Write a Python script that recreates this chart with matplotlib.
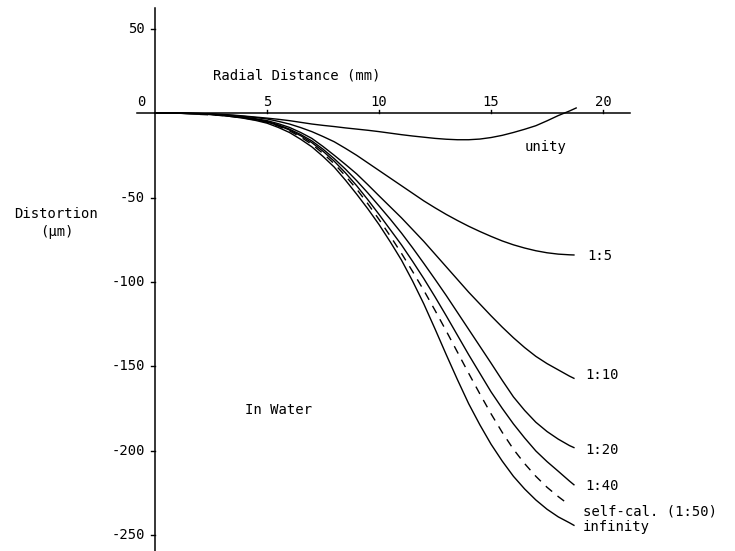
import matplotlib
matplotlib.use("Agg")
import matplotlib.pyplot as plt

# radial distance (mm)
r = [0, 1, 2, 2.5, 3, 3.5, 4, 4.5, 5, 5.5, 6, 6.5, 7, 7.5, 8, 8.5, 9, 9.5, 10,
     10.5, 11, 11.5, 12, 12.5, 13, 13.5, 14, 14.5, 15, 15.5, 16, 16.5, 17, 17.5,
     18, 18.5, 18.7]
r_unity = [0, 1, 2, 2.5, 3, 3.5, 4, 4.5, 5, 5.5, 6, 6.5, 7, 7.5, 8, 8.5, 9, 9.5, 10,
           10.5, 11, 11.5, 12, 12.5, 13, 13.5, 14, 14.5, 15, 15.5, 16, 16.5, 17, 17.5,
           18, 18.5, 18.8]
r_selfcal = [2, 2.5, 3, 3.5, 4, 4.5, 5, 5.5, 6, 6.5, 7, 7.5, 8, 8.5, 9, 9.5, 10,
             10.5, 11, 11.5, 12, 12.5, 13, 13.5, 14, 14.5, 15, 15.5, 16, 16.5, 17,
             17.5, 18, 18.4]

# distortion (um)
unity = [0, -0.1, -0.3, -0.5, -0.8, -1.2, -1.8, -2.4, -3, -3.7, -4.5, -5.5, -6.5, -7.3,
         -8, -8.8, -9.5, -10.2, -11, -11.9, -12.8, -13.6, -14.3, -15, -15.5, -15.8,
         -15.8, -15.4, -14.5, -13.2, -11.5, -9.6, -7.5, -4.6, -1.5, 1.2, 3]
d_1_5 = [0, -0.1, -0.3, -0.6, -1, -1.5, -2, -2.7, -3.5, -4.9, -6.5, -8.6, -11, -13.9,
         -17, -20.9, -25, -29.5, -34, -38.5, -43, -47.5, -52, -56.1, -60, -63.6, -67,
         -70.1, -73, -75.7, -78, -79.9, -81.5, -82.7, -83.5, -83.9, -84]
d_1_10 = [0, -0.1, -0.4, -0.75, -1.2, -1.8, -2.5, -3.4, -4.5, -6.3, -8.5, -11.5, -15,
          -19.8, -25, -30.4, -36, -42.4, -49, -55.5, -62, -69, -76, -83.5, -91, -98.5,
          -106, -113, -120, -126.7, -133, -138.8, -144, -148.3, -152, -155.7, -157]
d_1_20 = [0, -0.1, -0.4, -0.75, -1.2, -1.9, -2.7, -3.7, -5, -7, -9.5, -12.7, -16.5,
          -21.4, -27, -33.2, -40, -47.3, -55, -62.8, -71, -79.8, -89, -98.4, -108, -118,
          -128, -138, -148, -158.2, -168, -176, -183, -188.5, -193, -196.8, -198]
d_1_40 = [0, -0.1, -0.5, -0.85, -1.3, -2, -2.8, -3.9, -5.3, -7.4, -10, -13.4, -17.5,
          -22.6, -28.5, -35.4, -43, -51.3, -60, -69, -78, -87.8, -98, -108.8, -120,
          -131.5, -143, -154, -165, -174.8, -184, -192.3, -200, -206.3, -212, -217.8, -220]
selfcal = [-0.8, -1.1, -1.5, -2.2, -3, -4.1, -5.5, -7.7, -10.5, -14.2, -18.5, -23.9,
           -30, -37.2, -45, -53.7, -63, -72.8, -83, -93.8, -105, -116.8, -129, -141.5,
           -154, -166.2, -178, -189, -199, -207.5, -215, -221.5, -227, -231]
infinity = [0, -0.1, -0.5, -0.9, -1.5, -2.2, -3.2, -4.4, -6, -8.5, -11.5, -15.5, -20,
            -25.7, -32, -39.7, -48, -56.7, -66, -76.2, -87, -99.5, -113, -127.8, -143,
            -157.8, -172, -184.5, -196, -206, -215, -222.5, -229, -234.5, -239, -242.5, -244]

xticks = [5, 10, 15, 20]
yticks = [50, -50, -100, -150, -200, -250]

font = "DejaVu Sans Mono"
fs = 10

fig = plt.figure(figsize=(7.35, 5.51), dpi=100)
ax = fig.add_axes([0, 0, 1, 1])
ax.set_xlim(-6.92, 25.89)
ax.set_ylim(-259.2, 66.9)
ax.axis("off")

# axes drawn through the origin
ax.plot([0, 0], [-265, 62], color="k", lw=1.1)
ax.plot([-0.8, 21.2], [0, 0], color="k", lw=1.1)
for t in yticks:
    ax.plot([-0.2, 0], [t, t], color="k", lw=1)
    ax.text(-0.45, t, str(t), ha="right", va="center", family=font, fontsize=fs)
ax.text(-0.6, 6.5, "0", ha="center", va="center", family=font, fontsize=fs)
for t in xticks:
    ax.plot([t, t], [0, 1.8], color="k", lw=1)
    ax.text(t, 6.5, str(t), ha="center", va="center", family=font, fontsize=fs)

ax.text(2.6, 22, "Radial Distance (mm)", ha="left", va="center", family=font, fontsize=fs)
ax.text(-4.4, -60, "Distortion", ha="center", va="center", family=font, fontsize=fs)
ax.text(-4.4, -70.5, "(μm)", ha="center", va="center", family=font, fontsize=fs)
ax.text(4.0, -176, "In Water", ha="left", va="center", family=font, fontsize=fs)

ax.plot(r_unity, unity, color="k", lw=1)
ax.plot(r, d_1_5, color="k", lw=1)
ax.plot(r, d_1_10, color="k", lw=1)
ax.plot(r, d_1_20, color="k", lw=1)
ax.plot(r, d_1_40, color="k", lw=1)
ax.plot(r_selfcal, selfcal, color="k", lw=1, linestyle=(0, (6, 5)))
ax.plot(r, infinity, color="k", lw=1)

ax.text(16.5, -20, "unity", ha="left", va="center", family=font, fontsize=fs)
ax.text(19.3, -84.5, "1:5", ha="left", va="center", family=font, fontsize=fs)
ax.text(19.2, -155, "1:10", ha="left", va="center", family=font, fontsize=fs)
ax.text(19.2, -199.5, "1:20", ha="left", va="center", family=font, fontsize=fs)
ax.text(19.2, -221, "1:40", ha="left", va="center", family=font, fontsize=fs)
ax.text(19.1, -236, "self-cal. (1:50)", ha="left", va="center", family=font, fontsize=fs)
ax.text(19.1, -245, "infinity", ha="left", va="center", family=font, fontsize=fs)

fig.savefig("out.png", dpi=100)
